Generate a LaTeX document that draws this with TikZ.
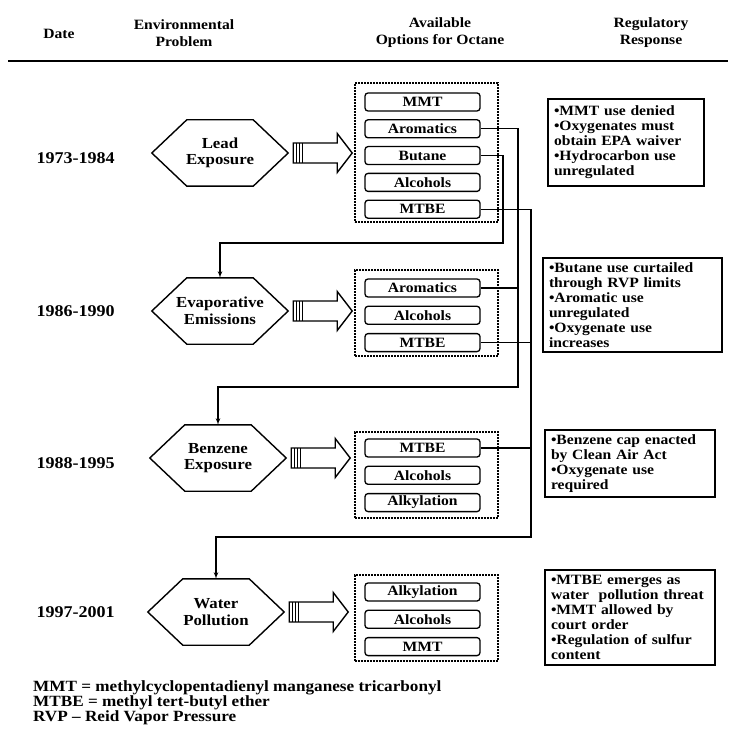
\documentclass[tikz,border=0pt]{standalone}
\usepackage{fontspec}
\setmainfont{Liberation Serif}[FakeStretch=1.1]
\usetikzlibrary{arrows, positioning}

\begin{document}
\begin{tikzpicture}[
    x=1pt, y=-1pt,
    head/.style={font=\fontsize{14.2}{17}\selectfont\bfseries, align=center},
    datel/.style={font=\fontsize{16.4}{18}\selectfont\bfseries, anchor=west},
    hexa/.style={minimum width=136pt, minimum height=66pt, inner sep=0pt, align=center, font=\fontsize{15.3}{16.5}\selectfont\bfseries},
    hexline/.style={line width=1.4pt},
    optbox/.style={draw, densely dotted, line width=2pt, minimum width=143pt},
    item/.style={draw, rounded corners=3pt, line width=1.3pt, minimum width=115pt, minimum height=18pt, inner sep=0pt, font=\fontsize{14.2}{15}\selectfont\bfseries},
    resp/.style={draw, line width=1.9pt, inner xsep=6pt, inner ysep=0pt, align=left, font=\fontsize{14.2}{15}\selectfont\bfseries},
    legend/.style={align=left, inner sep=0pt, font=\fontsize{15.6}{15}\selectfont\bfseries},
    fat/.style={draw, line width=1.4pt, fill=white},
    link/.style={draw, line width=1.2pt},
    node distance=8pt
]
    \useasboundingbox (0,0) rectangle (728,735);

    % column heads
    \node [head] (hdate) at (59,34) {Date};
    \node [head] (hprob) at (184,33) {Environmental\\Problem};
    \node [head] (hopt) at (440,33) {Available\\Options for Octane};
    \node [head] (hresp) at (651,33) {Regulatory\\Response};
    \draw [line width=2.5pt] (8,61) -- (728,61);

    % dates
    \node [datel] (date1) at (33,158) {1973-1984};
    \node [datel] (date2) at (33,311) {1986-1990};
    \node [datel] (date3) at (33,463) {1988-1995};
    \node [datel] (date4) at (33,612) {1997-2001};

    % problems
    \node [hexa] (prob1) at (220,153) {Lead\\Exposure};
    \node [hexa] (prob2) at (220,311) {Evaporative\\Emissions};
    \node [hexa] (prob3) at (218,458) {Benzene\\Exposure};
    \node [hexa] (prob4) at (216,612) {Water\\Pollution};

    \foreach \p in {prob1,prob2,prob3,prob4} {
        \draw [hexline] (\p.west) -- ([xshift=35pt]\p.north west) -- ([xshift=-35pt]\p.north east)
            -- (\p.east) -- ([xshift=-35pt]\p.south east) -- ([xshift=35pt]\p.south west) -- cycle;
        \draw [fat] ([xshift=5pt,yshift=10pt]\p.east) -- ++(44pt,0pt) -- ++(0pt,9.5pt) -- ++(15pt,-19.5pt)
            -- ++(-15pt,-19.5pt) -- ++(0pt,9.5pt) -- ++(-44pt,0pt) -- cycle;
        \foreach \d in {8,11,14}
            \draw [line width=0.8pt] ([xshift=\d pt,yshift=10pt]\p.east) -- ++(0pt,-20pt);
    }

    % options for octane
    \node [item] (mmt1) at (422.5,102) {MMT};
    \node [item, below=7.5pt of mmt1] (arom1) {Aromatics};
    \node [item, below=7.5pt of arom1] (but1) {Butane};
    \node [item, below=7.5pt of but1] (alc1) {Alcohols};
    \node [item, below=7.5pt of alc1] (mtbe1) {MTBE};
    \node [optbox, minimum height=139pt] (opt1) at (426.5,152.5) {};

    \node [item] (arom2) at (422.5,288) {Aromatics};
    \node [item, below=8pt of arom2] (alc2) {Alcohols};
    \node [item, below=8pt of alc2] (mtbe2) {MTBE};
    \node [optbox, minimum height=86pt] (opt2) at (426.5,313) {};

    \node [item] (mtbe3) at (422.5,448) {MTBE};
    \node [item, below=8pt of mtbe3] (alc3) {Alcohols};
    \node [item, below=8pt of alc3] (alky3) {Alkylation};
    \node [optbox, minimum height=86pt] (opt3) at (426,474.5) {};

    \node [item] (alky4) at (422.5,592) {Alkylation};
    \node [item, below=8pt of alky4] (alc4) {Alcohols};
    \node [item, below=8pt of alc4] (mmt4) {MMT};
    \node [optbox, minimum height=86pt] (opt4) at (426,618) {};

    % regulatory response
    \node [resp, text width=144pt, minimum height=87pt] (resp1) at (626,142.5)
        {•MMT use denied\\•Oxygenates must\\obtain EPA waiver\\•Hydrocarbon use\\unregulated};
    \node [resp, text width=167pt, minimum height=94pt] (resp2) at (632.5,305)
        {•Butane use curtailed\\through RVP limits\\•Aromatic use\\unregulated\\•Oxygenate use\\increases};
    \node [resp, text width=158pt, minimum height=67pt] (resp3) at (630,463.5)
        {•Benzene cap enacted\\by Clean Air Act\\•Oxygenate use\\required};
    \node [resp, text width=158pt, minimum height=95pt] (resp4) at (630,617.5)
        {•MTBE emerges as\\water\ \ pollution threat\\•MMT allowed by\\court order\\•Regulation of sulfur\\content};

    % what leads to the next problem
    \coordinate (turnB) at (503,243);
    \coordinate (turnA) at (518,387);
    \coordinate (turnM) at (531,537);
    \draw [link, -latex'] (but1.east) -| (turnB) -| (prob2.north);
    \draw [link, -latex'] (arom1.east) -| (turnA) -| (prob3.north);
    \draw [link, -latex'] (mtbe1.east) -| (turnM) -| (prob4.north);
    \draw [link] (arom2.east) -- (arom2.east -| turnA);
    \draw [link] (mtbe2.east) -- (mtbe2.east -| turnM);
    \draw [link] (mtbe3.east) -- (mtbe3.east -| turnM);

    % abbreviations
    \node [legend, anchor=north west] (abbr) at (33,680)
        {MMT = methylcyclopentadienyl manganese tricarbonyl\\MTBE = methyl tert-butyl ether\\RVP -- Reid Vapor Pressure};
\end{tikzpicture}
\end{document}
